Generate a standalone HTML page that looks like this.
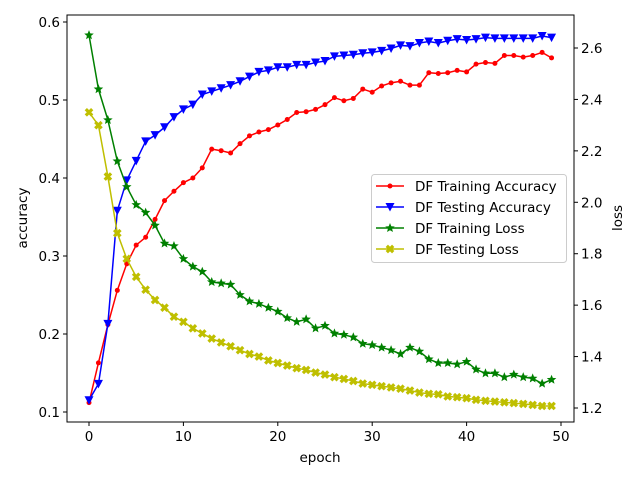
<!DOCTYPE html>
<html><head><meta charset="utf-8"><style>
html,body{margin:0;padding:0;background:#fff;}
svg{display:block;font-family:"DejaVu Sans","Liberation Sans",sans-serif;}
</style></head><body>
<svg id="chart" width="640" height="480" viewBox="0 0 640 480"></svg>
<script>
const epochs = Array.from({length:50},(_,i)=>i);
const trainAcc = [0.112,0.163,0.212,0.256,0.290,0.314,0.324,0.347,0.371,0.383,0.394,0.400,0.413,0.437,0.435,0.432,0.444,0.454,0.459,0.462,0.468,0.475,0.484,0.485,0.488,0.494,0.503,0.499,0.502,0.514,0.510,0.518,0.522,0.524,0.519,0.519,0.535,0.534,0.535,0.538,0.536,0.546,0.548,0.547,0.557,0.557,0.555,0.557,0.561,0.554];
const testAcc = [0.115,0.136,0.213,0.358,0.397,0.422,0.447,0.455,0.465,0.478,0.488,0.494,0.507,0.511,0.515,0.519,0.524,0.530,0.536,0.538,0.542,0.542,0.545,0.545,0.548,0.550,0.556,0.557,0.558,0.560,0.561,0.563,0.566,0.570,0.569,0.573,0.575,0.573,0.576,0.578,0.577,0.578,0.580,0.579,0.579,0.579,0.579,0.579,0.582,0.580];
const trainLoss = [2.65,2.44,2.32,2.16,2.06,1.99,1.96,1.91,1.84,1.83,1.78,1.75,1.73,1.69,1.685,1.68,1.64,1.615,1.605,1.59,1.575,1.55,1.535,1.545,1.51,1.52,1.49,1.485,1.475,1.45,1.445,1.435,1.425,1.41,1.435,1.42,1.39,1.375,1.375,1.37,1.38,1.35,1.335,1.335,1.32,1.33,1.32,1.315,1.295,1.31];
const testLoss = [2.35,2.30,2.10,1.88,1.78,1.71,1.66,1.62,1.59,1.555,1.535,1.51,1.49,1.47,1.455,1.44,1.425,1.41,1.40,1.385,1.375,1.365,1.355,1.348,1.338,1.33,1.32,1.313,1.305,1.295,1.29,1.285,1.28,1.275,1.268,1.26,1.255,1.253,1.245,1.242,1.238,1.232,1.228,1.225,1.222,1.219,1.216,1.212,1.208,1.208];
const xTicks = [0,10,20,30,40,50];
const accTicks = [0.1,0.2,0.3,0.4,0.5,0.6];
const lossTicks = [1.2,1.4,1.6,1.8,2.0,2.2,2.4,2.6];

const NS="http://www.w3.org/2000/svg";
const svg=document.getElementById('chart');
const L=67,R=574,T=15,B=422;
const FS=13.5;
const xS=v=>89+(v-0)*(561-89)/50;
const yA=v=>412+(v-0.1)*(22-412)/0.5;
const yL=v=>408+(v-1.2)*(48-408)/1.4;
function mk(tag,attrs,parent){const e=document.createElementNS(NS,tag);for(const k in attrs)e.setAttribute(k,attrs[k]);(parent||svg).appendChild(e);return e;}

const frame=mk('rect',{x:L,y:T,width:R-L,height:B-T,fill:'none',stroke:'#000','stroke-width':1});



xTicks.forEach(t=>{const x=xS(t);
 const tk=mk('line',{x1:x,x2:x,y1:B,y2:B+4,stroke:'#000'});
 
 
 const tx=mk('text',{x:x,y:B+19,'text-anchor':'middle','font-size':FS});tx.textContent=t;
 
 });
accTicks.forEach(t=>{const y=yA(t);
 const tk=mk('line',{x1:L-4,x2:L,y1:y,y2:y,stroke:'#000'});
 
 
 const tx=mk('text',{x:L-7,y:y+5,'text-anchor':'end','font-size':FS});tx.textContent=t.toFixed(1);
 
 });
lossTicks.forEach(t=>{const y=yL(t);
 const tk=mk('line',{x1:R,x2:R+4,y1:y,y2:y,stroke:'#000'});
 
 
 const tx=mk('text',{x:R+7,y:y+5,'text-anchor':'start','font-size':FS});tx.textContent=t.toFixed(1);
 
 });

const xl=mk('text',{x:320,y:462,'text-anchor':'middle','font-size':FS});xl.textContent='epoch';


const yl=mk('text',{x:0,y:0,'text-anchor':'middle','font-size':FS,transform:'translate(27,218) rotate(-90)'});yl.textContent='accuracy';


const yr=mk('text',{x:0,y:0,'text-anchor':'middle','font-size':FS,transform:'translate(622,218) rotate(-90)'});yr.textContent='loss';



function marker(type,x,y,c,g){
 if(type==='o') return mk('circle',{cx:x,cy:y,r:2.5,fill:c},g);
 if(type==='v') return mk('path',{d:`M${x-4.5},${y-4} L${x+4.5},${y-4} L${x},${y+4.5} Z`,fill:c},g);
 if(type==='*'){let p='';for(let i=0;i<10;i++){const r=i%2?2.2:5;const a=-Math.PI/2+i*Math.PI/5;p+=(i?'L':'M')+(x+r*Math.cos(a)).toFixed(2)+','+(y+r*Math.sin(a)).toFixed(2);}return mk('path',{d:p+'Z',fill:c},g);}
 if(type==='X'){const g2=mk('g',{transform:`translate(${x},${y}) rotate(45)`},g);mk('rect',{x:-4.5,y:-1.6,width:9,height:3.2,fill:c},g2);mk('rect',{x:-1.6,y:-4.5,width:3.2,height:9,fill:c},g2);return g2;}
}
function series(vals,ys,color,type,name){
 const g=mk('g',{});
 
 
 const pts=vals.map((v,i)=>xS(epochs[i]).toFixed(2)+','+ys(v).toFixed(2)).join(' ');
 mk('polyline',{points:pts,fill:'none',stroke:color,'stroke-width':1.5},g);
 vals.forEach((v,i)=>marker(type,xS(epochs[i]),ys(v),color,g));
}
series(trainAcc,yA,'#ff0000','o','train-accuracy-series');
series(testAcc,yA,'#0000ff','v','test-accuracy-series');
series(trainLoss,yL,'#008000','*','train-loss-series');
series(testLoss,yL,'#bfbf00','X','test-loss-series');

const lg=mk('g',{});


mk('rect',{x:371.5,y:174.5,width:195,height:88,rx:3,fill:'#fff','fill-opacity':0.8,stroke:'#ccc'},lg);
const items=[['DF Training Accuracy','#ff0000','o'],['DF Testing Accuracy','#0000ff','v'],['DF Training Loss','#008000','*'],['DF Testing Loss','#bfbf00','X']];
items.forEach((it,i)=>{const y=186+i*21;
 const e=mk('g',{},lg);
 
 
 mk('line',{x1:376,x2:404,y1:y,y2:y,stroke:it[1],'stroke-width':1.5},e);
 marker(it[2],390,y,it[1],e);
 const t=mk('text',{x:415,y:y+5,'font-size':FS,textLength:0},e);t.removeAttribute('textLength');t.textContent=it[0];});
</script>
</body></html>
